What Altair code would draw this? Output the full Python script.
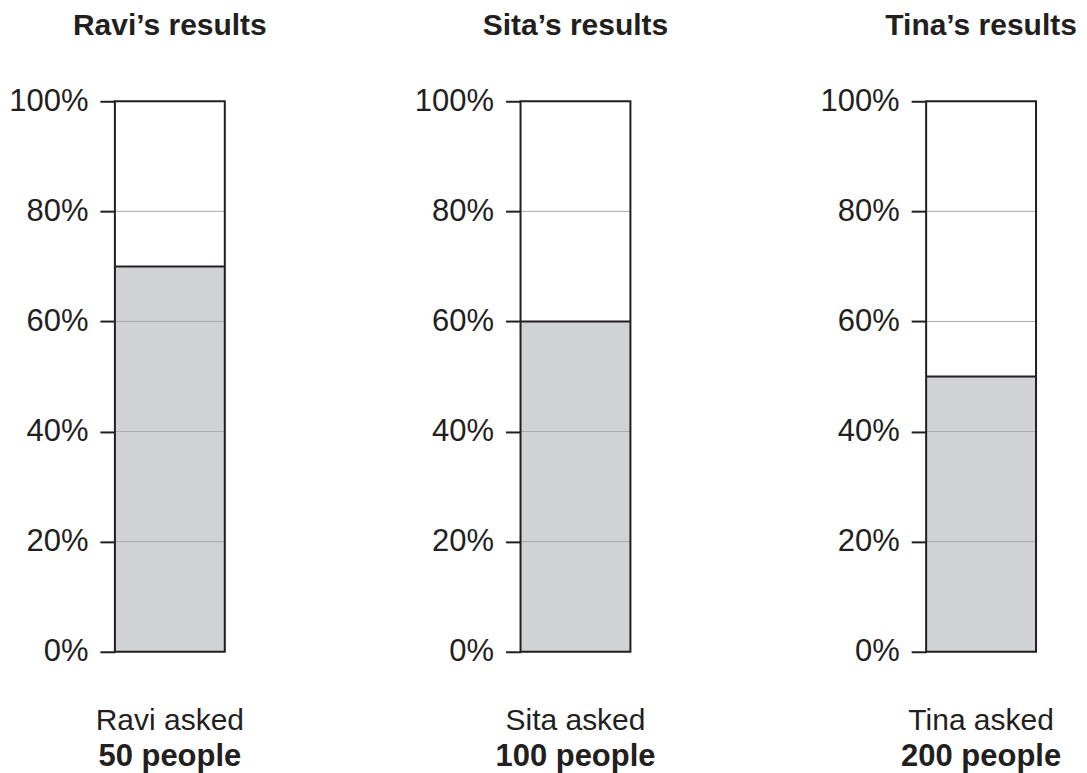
import altair as alt
import pandas as pd

names = ["Ravi", "Sita", "Tina"]
shares = [0.70, 0.60, 0.50]
people = [50, 100, 200]
grid_levels = [0.2, 0.4, 0.6, 0.8]
tick_values = [0.0, 0.2, 0.4, 0.6, 0.8, 1.0]

FONT = "Liberation Sans"
INK = "#231f20"
FILL = "#d1d2d4"
GRID = "#a7a9ac"
W, H = 110, 551
FS = 31
TFS = 30
BFS = 30
BFS_BOLD = 31


def panel(name, share, n):
    yscale = alt.Scale(domain=[0, 1], nice=False, zero=True)
    yaxis = alt.Axis(
        values=tick_values, format=".0%", title=None, domain=False, grid=False,
        tickSize=15, tickWidth=2, tickColor=INK, labelFont=FONT, labelFontSize=FS,
        labelColor=INK, labelPadding=12,
    )
    bar_df = pd.DataFrame({"lo": [0.0], "hi": [share]})
    frame_df = pd.DataFrame({"lo": [0.0], "hi": [1.0]})
    grid_df = pd.DataFrame({"v": grid_levels})
    text_df = pd.DataFrame({"a": [f"{name} asked"], "b": [f"{n} people"]})

    fill = alt.Chart(bar_df).mark_rect(color=FILL).encode(
        x=alt.value(0), x2=alt.value(W),
        y=alt.Y("lo:Q", scale=yscale, axis=yaxis), y2="hi:Q",
    )
    grid = alt.Chart(grid_df).mark_rule(color=GRID, strokeWidth=1).encode(
        y=alt.Y("v:Q", scale=yscale), x=alt.value(0), x2=alt.value(W),
    )
    top = alt.Chart(bar_df).mark_rule(color=INK, strokeWidth=2).encode(
        y=alt.Y("hi:Q", scale=yscale), x=alt.value(0), x2=alt.value(W),
    )
    frame = alt.Chart(frame_df).mark_rect(filled=False, stroke=INK, strokeWidth=2).encode(
        x=alt.value(0), x2=alt.value(W),
        y=alt.Y("lo:Q", scale=yscale), y2="hi:Q",
    )
    t1 = alt.Chart(text_df).mark_text(
        font=FONT, fontSize=BFS, color=INK, align="center", baseline="alphabetic"
    ).encode(text="a:N", x=alt.value(W / 2), y=alt.value(H + 78))
    t2 = alt.Chart(text_df).mark_text(
        font=FONT, fontSize=BFS_BOLD, fontWeight="bold", color=INK, align="center", baseline="alphabetic"
    ).encode(text="b:N", x=alt.value(W / 2), y=alt.value(H + 114))

    return alt.layer(fill, grid, top, frame, t1, t2).properties(
        width=W, height=H,
        title=alt.Title(
            f"{name}\u2019s results", font=FONT, fontSize=TFS, fontWeight="bold",
            color=INK, anchor="middle", frame="group", baseline="alphabetic", offset=20,
        ),
    )


chart = alt.hconcat(
    *[panel(nm, s, p) for nm, s, p in zip(names, shares, people)],
    spacing=296, bounds="flush",
).properties(
    padding={"left": 0, "top": 3, "right": 2, "bottom": 2}
).configure_view(stroke=None)

chart.save("out.html", embed_options={"renderer": "svg", "actions": False})
